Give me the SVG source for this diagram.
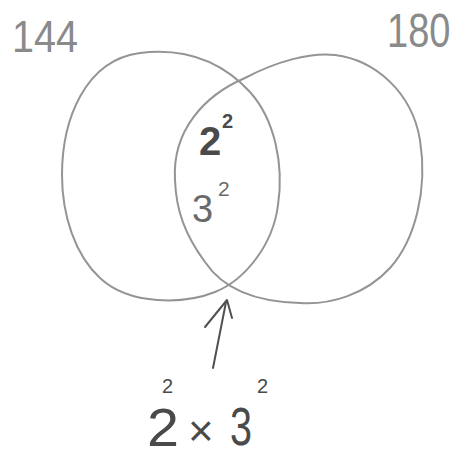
<svg xmlns="http://www.w3.org/2000/svg" width="456" height="459" viewBox="0 0 456 459">
<style>
.c{fill:none;stroke:#949494;stroke-width:2;stroke-linejoin:round}
.t{font-family:"Liberation Sans","DejaVu Sans",sans-serif;fill:#8a8a8a}
.m{fill:#6a6a6a}
.d{fill:#4a4a4a}
.a{fill:none;stroke:#505050;stroke-width:2;stroke-linecap:round;stroke-linejoin:round}
</style>
<rect width="456" height="459" fill="#fff"/>
<g id="set144">
<path class="c" d="M62,175 C62,120 85,60 140,53 C190,47 225,65 250,92 C275,120 284,165 278,205 C273,245 245,280 215,292 C185,304 130,306 100,278 C75,255 62,215 62,175 Z"/>
<text class="t" x="12" y="52" font-size="44" textLength="66" lengthAdjust="spacingAndGlyphs">144</text>
</g>
<g id="set180">
<path class="c" d="M175,180 C172,130 205,95 245,78 C275,62 310,52 335,55 C375,60 412,92 420,140 C428,190 415,240 390,268 C365,295 330,305 300,303 C260,302 225,292 205,262 C185,235 176,210 175,180 Z"/>
<text class="t" transform="translate(387,47) scale(1,1.25)" x="0" y="0" font-size="38">180</text>
</g>
<g id="intersection">
<text class="t d" x="199" y="155" font-size="40" font-weight="bold">2</text>
<text class="t d" x="222" y="128" font-size="20" font-weight="bold">2</text>
<text class="t m" x="192" y="222" font-size="38">3</text>
<text class="t m" x="218" y="196" font-size="21">2</text>
</g>
<g id="connectors">
<path class="a" d="M213,368 L226,302"/>
<path class="a" d="M205,327 L227,300 L232,318"/>
</g>
<g id="product">
<text class="t d" x="147" y="446" font-size="54" textLength="32" lengthAdjust="spacingAndGlyphs">2</text>
<text class="t d" x="162" y="393" font-size="20">2</text>
<text class="t d" x="188" y="446" font-size="44">×</text>
<text class="t d" x="230" y="445" font-size="54" textLength="22" lengthAdjust="spacingAndGlyphs">3</text>
<text class="t d" x="257" y="393" font-size="20">2</text>
</g>
</svg>
